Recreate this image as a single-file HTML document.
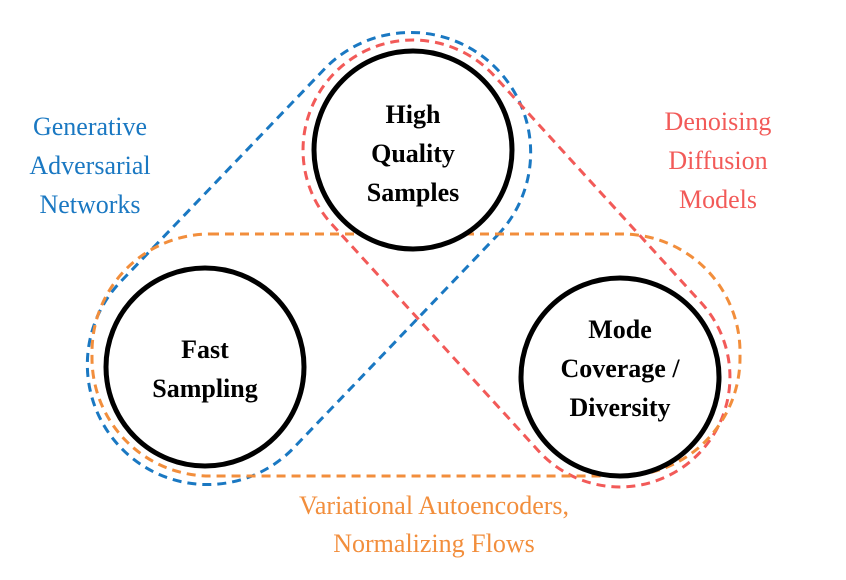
<!DOCTYPE html>
<html><head><meta charset="utf-8"><style>
html,body{margin:0;padding:0;background:#fff;width:846px;height:580px;overflow:hidden}
svg{display:block}
text{font-family:"Liberation Serif",serif}
</style></head><body>
<svg width="846" height="580" viewBox="0 0 846 580" xmlns="http://www.w3.org/2000/svg">
<path d="M 499.6 233 L 291.6 450 A 120 120 0 0 1 118.4 284 L 326.4 67 A 120 120 0 0 1 499.6 233 Z" fill="none" stroke="#1a78c2" stroke-width="3" stroke-dasharray="9,6"/>
<path d="M 331.7 224.1 L 538.7 451.1 A 110 110 0 0 0 701.3 302.9 L 494.3 75.9 A 110 110 0 0 0 331.7 224.1 Z" fill="none" stroke="#f25a58" stroke-width="3" stroke-dasharray="9,6"/>
<rect x="92" y="234" width="648" height="242" rx="118" ry="118" fill="none" stroke="#f28e3c" stroke-width="3" stroke-dasharray="9,6"/>
<g fill="#fff" stroke="#000" stroke-width="5">
<circle cx="413" cy="150" r="99"/>
<circle cx="205" cy="367" r="99"/>
<circle cx="620" cy="377" r="99"/>
</g>
<g font-weight="bold" font-size="26" text-anchor="middle" fill="#000">
<text x="413" y="123">High</text>
<text x="413" y="162">Quality</text>
<text x="413" y="201">Samples</text>
<text x="205" y="358">Fast</text>
<text x="205" y="397">Sampling</text>
<text x="620" y="338">Mode</text>
<text x="620" y="377">Coverage /</text>
<text x="620" y="416">Diversity</text>
</g>
<g font-size="26" text-anchor="middle">
<g fill="#1a78c2">
<text x="90" y="135">Generative</text>
<text x="90" y="174">Adversarial</text>
<text x="90" y="213">Networks</text>
</g>
<g fill="#f25a58">
<text x="718" y="130">Denoising</text>
<text x="718" y="169">Diffusion</text>
<text x="718" y="208">Models</text>
</g>
<g fill="#f28e3c">
<text x="434" y="514">Variational Autoencoders,</text>
<text x="434" y="552">Normalizing Flows</text>
</g>
</g>
</svg>
</body></html>
